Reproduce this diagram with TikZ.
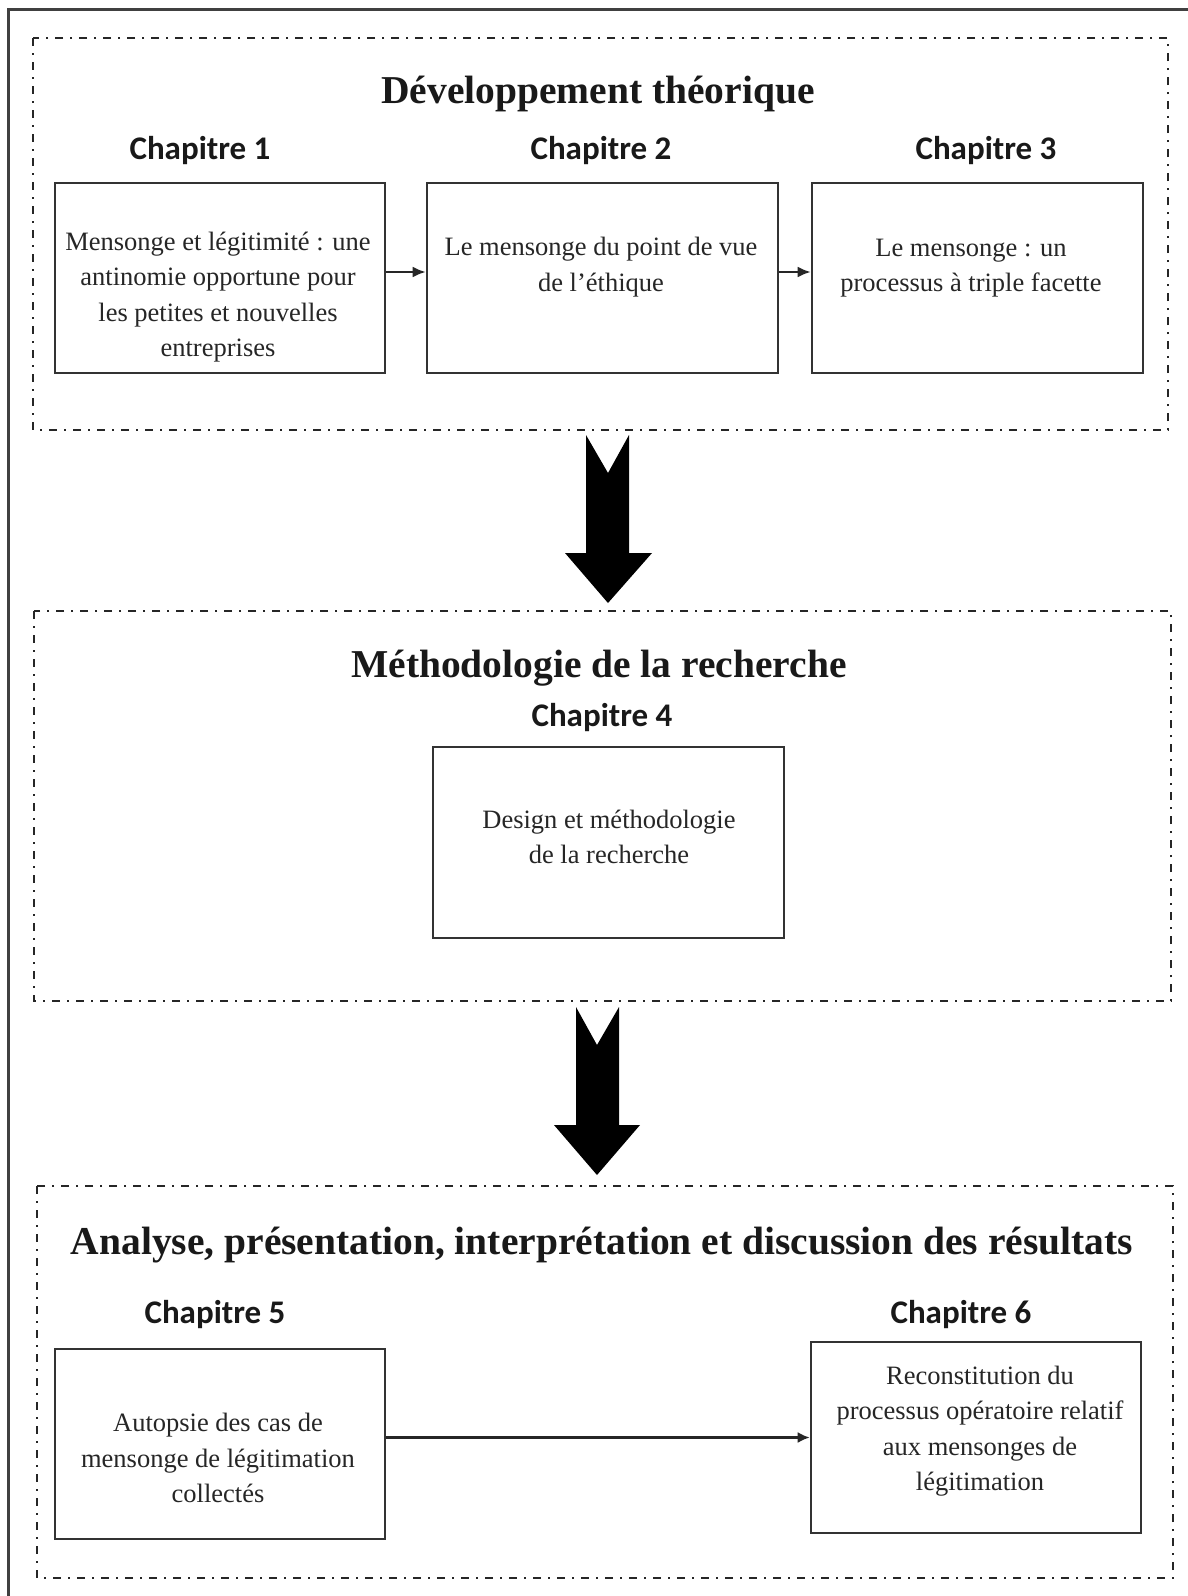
\documentclass[tikz,border=0pt]{standalone}
\usepackage{fontspec}
\setmainfont{Liberation Serif}
\newfontfamily\chapfont{Carlito}
\usetikzlibrary{arrows.meta}
\begin{document}
\begin{tikzpicture}[x=1pt,y=-1pt,
  frame/.style={draw, line width=2.6pt, black!85, dash pattern=on 8pt off 7pt on 2pt off 7pt},
  box/.style={draw, line width=2.6pt, black!80, inner sep=0pt},
  title/.style={font=\fontsize{39.5}{45}\selectfont\bfseries, text=black!90, inner sep=0pt},
  chap/.style={font=\chapfont\fontsize{33}{38}\selectfont\bfseries, text=black!90, inner sep=0pt},
  body/.style={font=\fontsize{26.5}{35.5}\selectfont, align=center, text=black!85, inner sep=0pt},
  link/.style={-{Latex[length=13pt,width=11pt]}, line width=2.4pt, black!85},
  bigarrow/.style={fill=black}]
\useasboundingbox (0,0) rectangle (1188,1596);
\fill[white] (0,0) rectangle (1188,1596);
% outer frame
\draw[line width=3pt, black!75] (8,1620) -- (8,9) -- (1200,9);
% dashed frames
\draw[frame] (33,38) rectangle (1168,430);
\draw[frame] (34,611) rectangle (1171,1001);
\draw[frame] (37,1186) rectangle (1173,1578);
% section 1
\node[title] (s1) at (598,94) {Développement théorique};
\node[chap] (h1) at (200,151) {Chapitre 1};
\node[chap] (h2) at (601,151) {Chapitre 2};
\node[chap] (h3) at (986,151) {Chapitre 3};
\node[box, minimum width=330, minimum height=190] (c1) at (220,278) {};
\node[box, minimum width=351, minimum height=190] (c2) at (602.5,278) {};
\node[box, minimum width=331, minimum height=190] (c3) at (977.5,278) {};
\node[body] (t1) at (218,297) {Mensonge et légitimité : une\\antinomie opportune pour\\les petites et nouvelles\\entreprises};
\node[body] (t2) at (601,267) {Le mensonge du point de vue\\de l’éthique};
\node[body] (t3) at (971,268) {Le mensonge : un\\processus à triple facette};
\draw[link] ([yshift=6pt]c1.east) -- ([yshift=6pt]c2.west);
\draw[link] ([yshift=6pt]c2.east) -- ([yshift=6pt]c3.west);
% big arrow 1
\fill[bigarrow] (586,435) -- (608,473) -- (629,435) -- (629,553) -- (652,553) -- (608,603) -- (565,553) -- (586,553) -- cycle;
% section 2
\node[title] (s2) at (599,668) {Méthodologie de la recherche};
\node[chap] (h4) at (602,718) {Chapitre 4};
\node[box, minimum width=351, minimum height=191] (c4) at (608.5,842.5) {};
\node[body] (t4) at (609,837) {Design et méthodologie\\de la recherche};
% big arrow 2
\fill[bigarrow] (576,1007) -- (597,1045) -- (619,1007) -- (619,1125) -- (640,1125) -- (597,1175) -- (554,1125) -- (576,1125) -- cycle;
% section 3
\node[title] (s3) at (602,1245) {Analyse, présentation, interprétation et discussion des résultats};
\node[chap] (h5) at (215,1314) {Chapitre 5};
\node[chap] (h6) at (961,1314) {Chapitre 6};
\node[box, minimum width=330, minimum height=190] (c5) at (220,1444) {};
\node[box, minimum width=330, minimum height=191] (c6) at (976,1437.5) {};
\node[body] (t5) at (218,1458) {Autopsie des cas de\\mensonge de légitimation\\collectés};
\node[body] (t6) at (980,1431) {Reconstitution du\\processus opératoire relatif\\aux mensonges de\\légitimation};
\draw[-{Latex[length=12pt,width=11pt]}, line width=2.2pt, black!85] (c5.east |- c6.west) -- (c6.west);
\end{tikzpicture}
\end{document}
